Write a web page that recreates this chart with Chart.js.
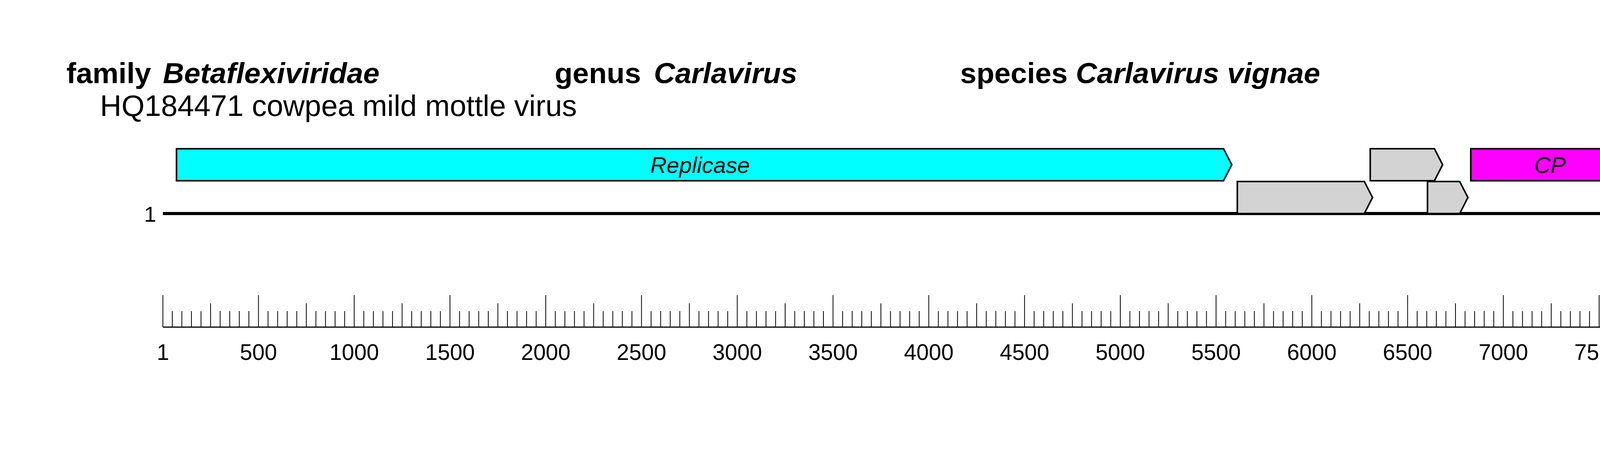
<!DOCTYPE html>
<html><head><meta charset="utf-8">
<script src="https://cdn.jsdelivr.net/npm/chart.js@4"></script>
<style>html,body{margin:0;padding:0;background:#fff}#w{width:4956px;height:1204px}</style>
</head><body><div id="w"><canvas id="c" width="4956" height="1204"></canvas></div>
<script>
const genomeLength = 8127;
const orfNames  = ["Replicase", "", "", "", "CP", ""];
const orfStarts = [72, 5611, 6305, 6604, 6830, 7700];
const orfEnds   = [5582, 6317, 6683, 6815, 7700, 7991];
const orfRows   = [2, 3, 2, 3, 2, 1];
const orfColors = ["#00ffff", "#d3d3d3", "#d3d3d3", "#d3d3d3", "#ff00ff", "#d3d3d3"];
const rulerLabels = [1, 500, 1000, 1500, 2000, 2500, 3000, 3500, 4000, 4500, 5000, 5500, 6000, 6500, 7000, 7500, 8000, 8500];
const rulerMax = 8500;

const FONT = '"Liberation Sans", Arial, sans-serif';
const rowY = {1: 339, 2: 422, 3: 506};

const drawPlugin = {
  id: 'genome',
  afterDraw(chart) {
    const ctx = chart.ctx, x = chart.scales.x;
    ctx.save();
    ctx.fillStyle = '#000';
    ctx.textBaseline = 'alphabetic';
    ctx.font = 'bold 75px ' + FONT; ctx.textAlign = 'left';
    ctx.fillText('family', 170, 213);
    ctx.font = 'bold italic 75px ' + FONT; ctx.fillText('Betaflexiviridae', 417, 213);
    ctx.font = 'bold 75px ' + FONT; ctx.fillText('genus', 1420, 213);
    ctx.font = 'bold italic 75px ' + FONT; ctx.fillText('Carlavirus', 1674, 213);
    ctx.font = 'bold 75px ' + FONT; ctx.fillText('species', 2458, 213);
    const sw = ctx.measureText('species ').width;
    ctx.font = 'bold italic 75px ' + FONT; ctx.fillText('Carlavirus vignae', 2458 + sw, 213);
    ctx.font = '76px ' + FONT; ctx.fillText('HQ184471 cowpea mild mottle virus', 256, 297);

    ctx.strokeStyle = '#000'; ctx.lineWidth = 8;
    ctx.beginPath(); ctx.moveTo(x.getPixelForValue(1), 547); ctx.lineTo(x.getPixelForValue(genomeLength), 547); ctx.stroke();
    ctx.font = '56px ' + FONT;
    ctx.textAlign = 'right'; ctx.fillText('1', 400, 568);
    ctx.textAlign = 'left'; ctx.fillText(String(genomeLength), 4443, 568);

    for (let i = 0; i < orfStarts.length; i++) {
      const x0 = x.getPixelForValue(orfStarts[i]);
      const x1 = x.getPixelForValue(orfEnds[i]);
      const cy = rowY[orfRows[i]], h = 41, head = 21;
      ctx.beginPath();
      ctx.moveTo(x0, cy - h); ctx.lineTo(x1 - head, cy - h); ctx.lineTo(x1, cy);
      ctx.lineTo(x1 - head, cy + h); ctx.lineTo(x0, cy + h); ctx.closePath();
      ctx.fillStyle = orfColors[i]; ctx.fill();
      ctx.lineWidth = 4; ctx.lineJoin = 'miter'; ctx.strokeStyle = '#000'; ctx.stroke();
      if (orfNames[i]) {
        ctx.fillStyle = '#000'; ctx.font = 'italic 58px ' + FONT; ctx.textAlign = 'center';
        ctx.fillText(orfNames[i], (x0 + x1 - head) / 2, cy + 21);
      }
    }

    const by = 838;
    ctx.lineWidth = 3; ctx.strokeStyle = '#000';
    ctx.beginPath(); ctx.moveTo(x.getPixelForValue(1), by); ctx.lineTo(x.getPixelForValue(rulerMax), by); ctx.stroke();
    ctx.lineWidth = 2;
    for (let v = 0; v <= rulerMax; v += 50) {
      const p = x.getPixelForValue(Math.max(v, 1));
      const top = v % 500 === 0 ? 756 : (v % 250 === 0 ? 777 : 797);
      ctx.beginPath(); ctx.moveTo(p, by); ctx.lineTo(p, top); ctx.stroke();
    }
    ctx.font = '57px ' + FONT; ctx.textAlign = 'center'; ctx.fillStyle = '#000';
    rulerLabels.forEach(v => ctx.fillText(String(v), x.getPixelForValue(v), 922));
    ctx.restore();
  }
};

new Chart(document.getElementById('c'), {
  type: 'scatter',
  data: { datasets: [{ data: [] }] },
  options: {
    responsive: false, animation: false, devicePixelRatio: 1,
    layout: { padding: { left: 417, right: 4956 - 4584, top: 0, bottom: 0 } },
    plugins: { legend: { display: false }, tooltip: { enabled: false } },
    scales: {
      x: { type: 'linear', min: 1, max: rulerMax, display: false },
      y: { min: 0, max: 1, display: false }
    }
  },
  plugins: [drawPlugin]
});
</script></body></html>
